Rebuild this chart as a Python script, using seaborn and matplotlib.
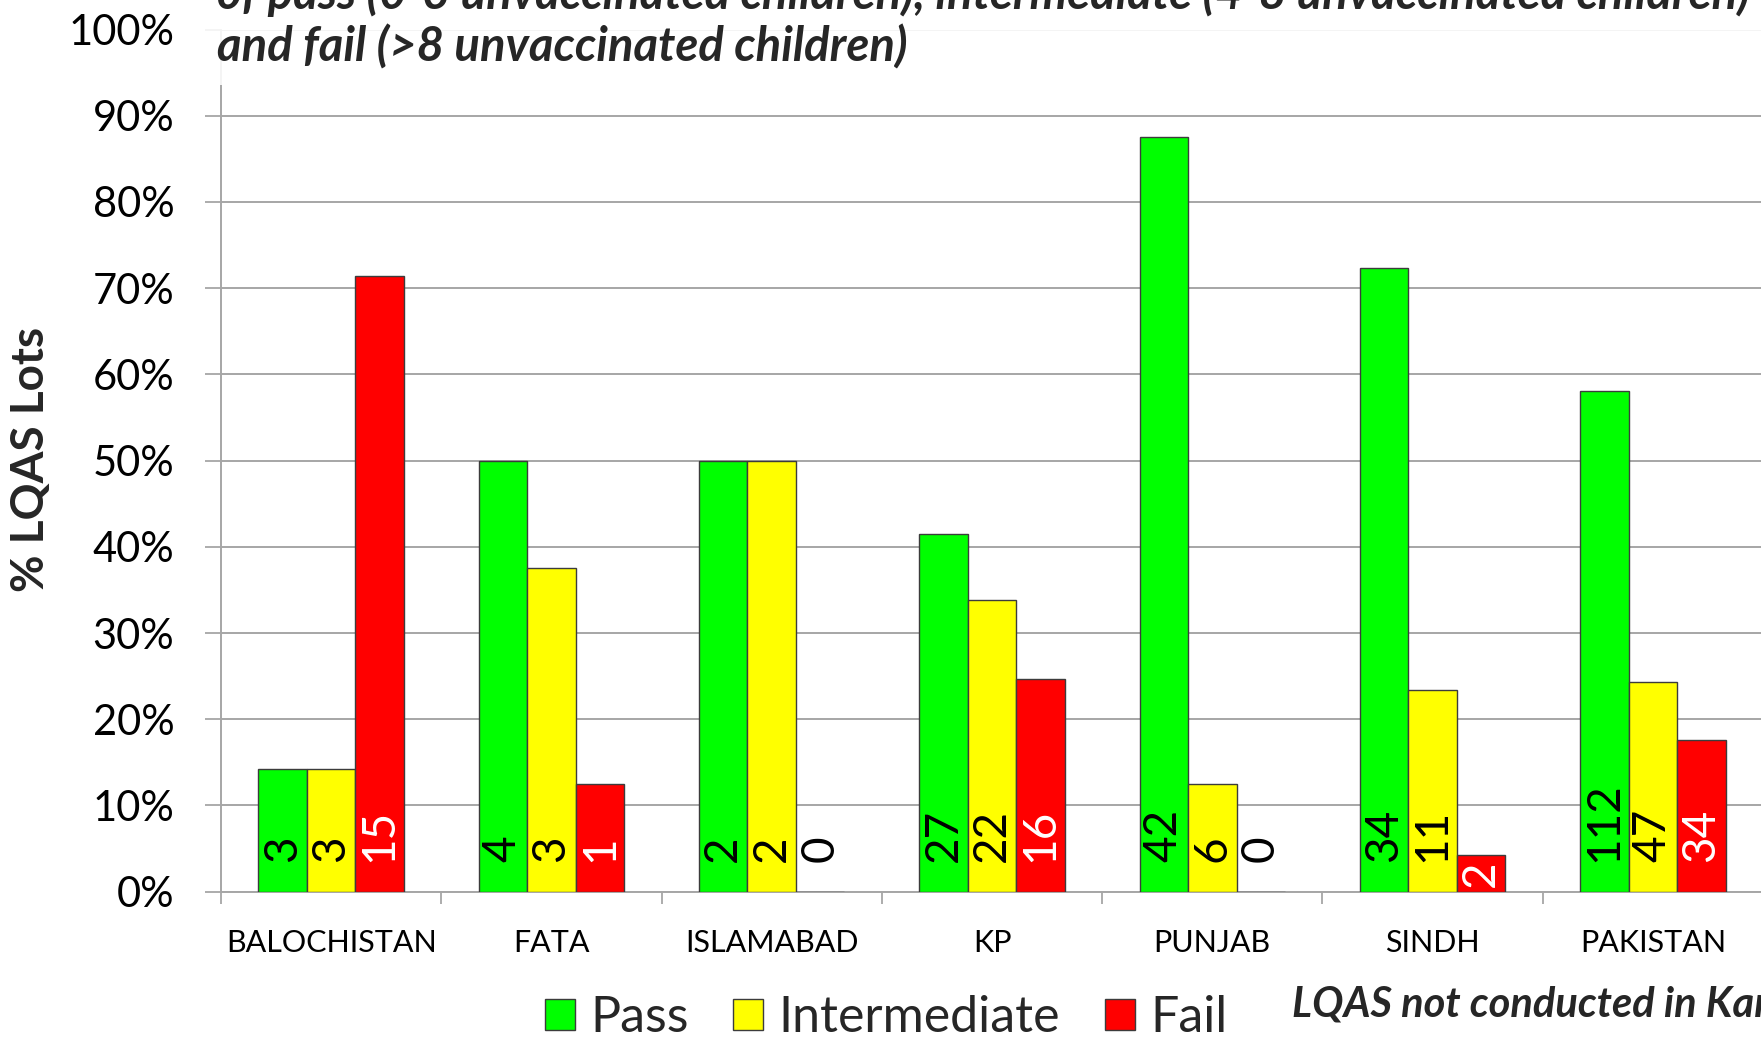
import matplotlib
matplotlib.use("Agg")
import matplotlib.pyplot as plt
from matplotlib.patches import Rectangle
from matplotlib.ticker import FixedLocator, FuncFormatter
import numpy as np
import pandas as pd
import seaborn as sns

# LQAS lot counts per province / region
regions = ["BALOCHISTAN", "FATA", "ISLAMABAD", "KP", "PUNJAB", "SINDH", "PAKISTAN"]
results = ["Pass", "Intermediate", "Fail"]
pass_lots = [3, 4, 2, 27, 42, 34, 112]
intermediate_lots = [3, 3, 2, 22, 6, 11, 47]
fail_lots = [15, 1, 0, 16, 0, 2, 34]
y_ticks = [0, 10, 20, 30, 40, 50, 60, 70, 80, 90, 100]

title_line1 = "of pass (0-3 unvaccinated children), intermediate (4-8 unvaccinated children)"
title_line2 = "and fail (>8 unvaccinated children)"
note_text = "LQAS not conducted in Karachi"

counts = {"Pass": pass_lots, "Intermediate": intermediate_lots, "Fail": fail_lots}
totals = np.array(pass_lots) + np.array(intermediate_lots) + np.array(fail_lots)

rows = []
for res in results:
    for i, reg in enumerate(regions):
        rows.append({"region": reg, "result": res, "lots": counts[res][i],
                     "pct": counts[res][i] / totals[i] * 100.0})
df = pd.DataFrame(rows)

sns.set_style("white")
plt.rcParams["font.family"] = ["Lato", "DejaVu Sans"]

W, H = 1761, 1038
fig = plt.figure(figsize=(W / 100, H / 100), dpi=100)
ax_left, ax_right = 221, 1763
ax_top, ax_bottom = 29.5, 891.7
ax = fig.add_axes([ax_left / W, (H - ax_bottom) / H,
                   (ax_right - ax_left) / W, (ax_bottom - ax_top) / H])

palette = {"Pass": "#00ff00", "Intermediate": "#ffff00", "Fail": "#ff0000"}
grid_c = "#a6a6a6"

sns.barplot(data=df, x="region", y="pct", hue="result", hue_order=results,
            order=regions, palette=palette, width=0.66, saturation=1,
            edgecolor="#3c3c3c", linewidth=1.0, errorbar=None, ax=ax, zorder=3)

ax.set_xlim(-0.5, len(regions) - 0.5)
ax.set_ylim(0, 100)

# grid and axes styling
ax.yaxis.set_major_locator(FixedLocator(y_ticks))
ax.yaxis.set_major_formatter(FuncFormatter(lambda v, p: f"{int(round(v))}%"))
ax.grid(axis="y", color=grid_c, linewidth=1.4, zorder=0)
ax.set_axisbelow(True)
for side in ["top", "right"]:
    ax.spines[side].set_visible(False)
for side in ["left", "bottom"]:
    ax.spines[side].set_color(grid_c)
    ax.spines[side].set_linewidth(1.4)

ax.tick_params(axis="y", which="major", direction="out", length=11.5, width=1.3,
               color=grid_c, pad=22, labelsize=30, labelcolor="black", left=True)
ax.set_xticks(range(len(regions)))
ax.set_xticklabels(regions)
ax.xaxis.set_minor_locator(FixedLocator(np.arange(-0.5, len(regions), 1.0)))
ax.tick_params(axis="x", which="major", length=0, pad=26.5, labelsize=22, labelcolor="black")
ax.tick_params(axis="x", which="minor", direction="out", length=8.6, width=1.3,
               color=grid_c, bottom=True)
ax.set_xlabel("")

ax.set_ylabel("% LQAS Lots", fontsize=33, fontweight="bold", va="center", ha="center")
ax.yaxis.set_label_coords((31 - ax_left) / (ax_right - ax_left),
                          (ax_bottom - 459) / (ax_bottom - ax_top))

# rotated count labels at the base of each bar
for res, container in zip(results, ax.containers):
    for i, bar in enumerate(container):
        n = counts[res][i]
        pct = n / totals[i] * 100.0
        xc = bar.get_x() + bar.get_width() / 2
        color = "white" if (res == "Fail" and n > 0) else "black"
        if 0 < pct < 8:
            ax.text(xc, pct / 2, str(n), rotation=90, ha="center", va="center",
                    fontsize=33, color=color, zorder=5)
        else:
            ax.text(xc, 3.5, str(n), rotation=90, ha="center", va="bottom",
                    fontsize=33, color=color, zorder=5)

# legend below the plot
handles, labels = ax.get_legend_handles_labels()
ax.legend(handles, labels, loc="center", bbox_to_anchor=(886 / W, 20 / H),
          bbox_transform=fig.transFigure, ncol=3, frameon=False, fontsize=36,
          handlelength=0.6, handleheight=0.6, handletextpad=0.3,
          columnspacing=0.9, borderpad=0, borderaxespad=0)

# title box (partly above the canvas)
fig.patches.append(Rectangle((195 / W, (H - 85) / H), 1 - 195 / W, 85 / H,
                             transform=fig.transFigure, facecolor="white",
                             edgecolor="none", alpha=0.88, zorder=5))
fig.text(217 / W, (H - 9) / H, title_line1, fontsize=34, fontweight="bold",
         fontstyle="italic", ha="left", va="baseline", zorder=6)
fig.text(217 / W, (H - 62) / H, title_line2, fontsize=34, fontweight="bold",
         fontstyle="italic", ha="left", va="baseline", zorder=6)

fig.text(1292 / W, 22 / H, note_text, fontsize=30, fontweight="bold",
         fontstyle="italic", ha="left", va="baseline")

fig.savefig("out.png", dpi=100)
